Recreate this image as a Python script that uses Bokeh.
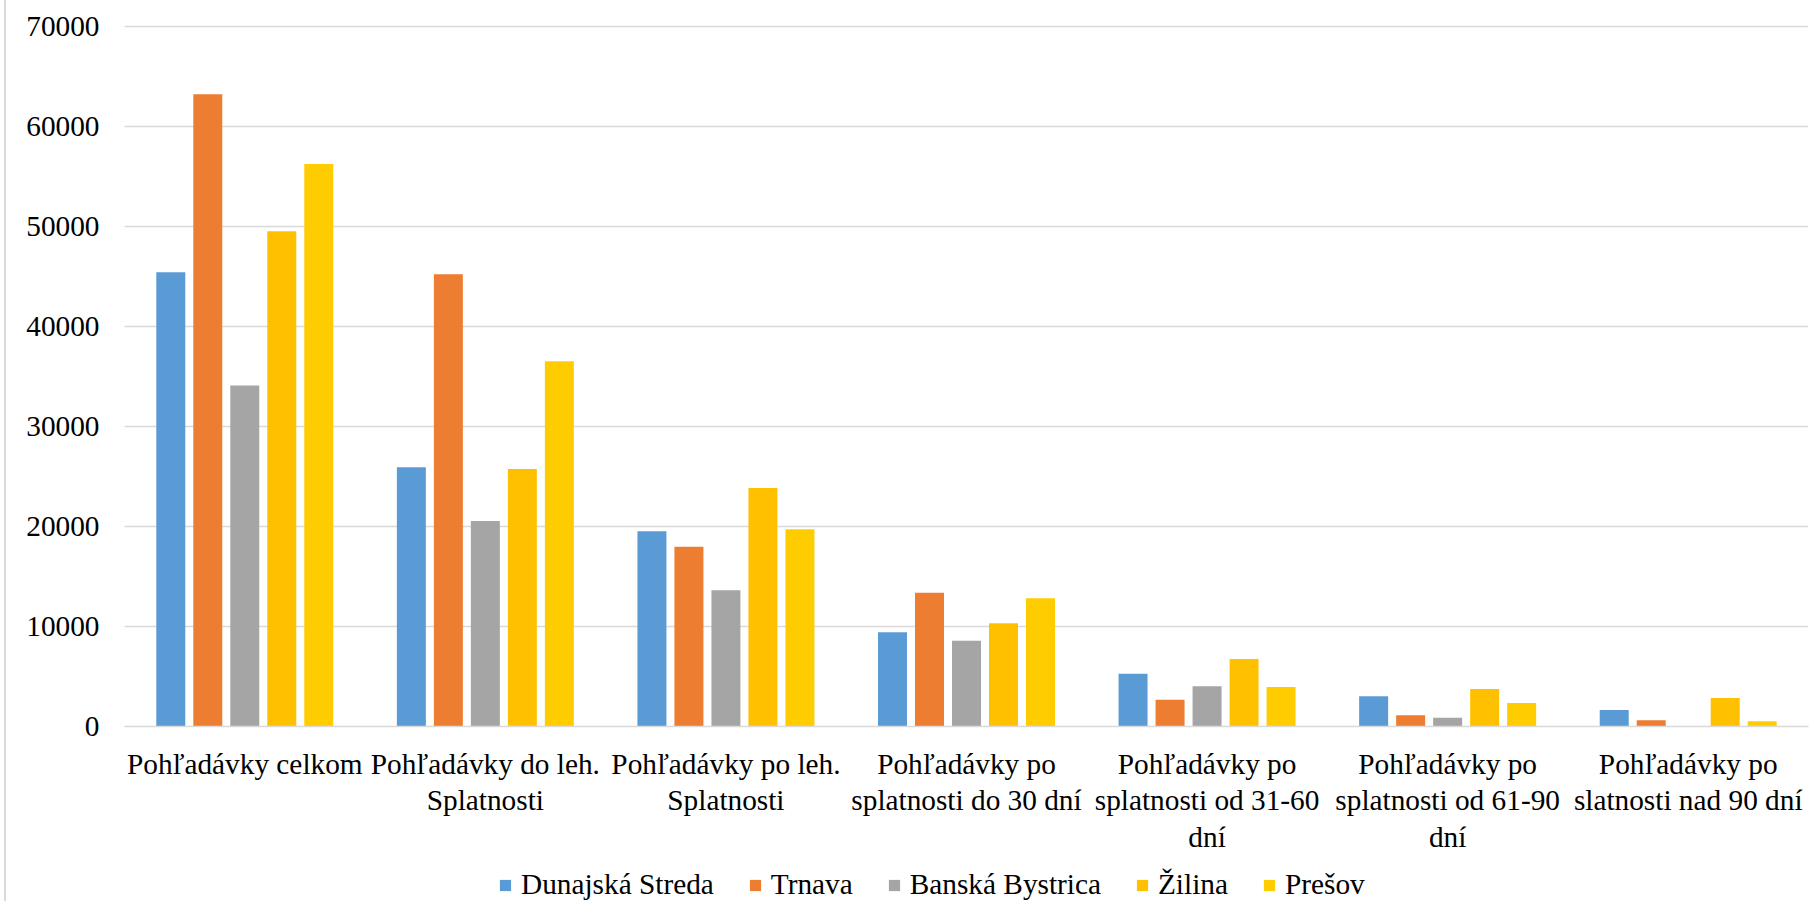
from bokeh.plotting import figure
from bokeh.layouts import column
from bokeh.models import (ColumnDataSource, FactorRange, Range1d, FixedTicker,
                          NumeralTickFormatter, Legend, LegendItem)
from bokeh.transform import dodge
from bokeh.embed import file_html
from bokeh.resources import INLINE

# ---- data ----
categories = [
    "Pohľadávky celkom",
    "Pohľadávky do leh.\nSplatnosti",
    "Pohľadávky po leh.\nSplatnosti",
    "Pohľadávky po\nsplatnosti do 30 dní",
    "Pohľadávky po\nsplatnosti od 31-60\ndní",
    "Pohľadávky po\nsplatnosti od 61-90\ndní",
    "Pohľadávky po\nslatnosti nad 90 dní",
]
series_names = ["Dunajská Streda", "Trnava", "Banská Bystrica", "Žilina", "Prešov"]
dunajska_streda = [45420, 25920, 19520, 9420, 5280, 3020, 1650]
trnava = [63220, 45220, 17980, 13380, 2680, 1120, 620]
banska_bystrica = [34100, 20550, 13620, 8580, 4020, 880, 0]
zilina = [49520, 25750, 23850, 10320, 6750, 3750, 2850]
presov = [56250, 36520, 19720, 12820, 3950, 2350, 520]
y_ticks = [0, 10000, 20000, 30000, 40000, 50000, 60000, 70000]

# ---- styles ----
colors = ["#5B9BD5", "#ED7D31", "#A5A5A5", "#FFC000", "#FFCC00"]
keys = ["s0", "s1", "s2", "s3", "s4"]
offsets = [-0.3076, -0.1538, 0.0, 0.1538, 0.3076]
bar_width = 0.1205
FONT = "Liberation Serif"
FSIZE = "29.3px"
GRID = "#D9D9D9"
W = 1803

source = ColumnDataSource(data=dict(
    cat=categories,
    s0=dunajska_streda, s1=trnava, s2=banska_bystrica, s3=zilina, s4=presov,
))

p = figure(
    width=W, height=866,
    x_range=FactorRange(factors=categories, range_padding=0),
    y_range=Range1d(0, 70400),
    output_backend="svg", toolbar_location=None,
    min_border_left=118, min_border_right=1,
    min_border_top=22, min_border_bottom=140,
)
p.outline_line_color = None
p.background_fill_color = "white"
p.border_fill_color = "white"

for k, c, off in zip(keys, colors, offsets):
    p.vbar(x=dodge("cat", off, range=p.x_range), top=k, width=bar_width,
           source=source, fill_color=c, line_color=None)

# grid
p.xgrid.visible = False
p.ygrid.grid_line_color = GRID
p.ygrid.grid_line_width = 1.6
p.yaxis.ticker = FixedTicker(ticks=y_ticks)
p.ygrid.ticker = FixedTicker(ticks=y_ticks)

# y axis
p.yaxis.formatter = NumeralTickFormatter(format="0")
p.yaxis.axis_line_color = None
p.yaxis.major_tick_line_color = None
p.yaxis.minor_tick_line_color = None
p.yaxis.major_tick_in = 0
p.yaxis.major_tick_out = 0
p.yaxis.major_label_standoff = 25
p.yaxis.major_label_text_font = FONT
p.yaxis.major_label_text_font_size = FSIZE
p.yaxis.major_label_text_color = "black"

# x axis
p.xaxis.axis_line_color = GRID
p.xaxis.axis_line_width = 1.6
p.xaxis.major_tick_line_color = None
p.xaxis.minor_tick_line_color = None
p.xaxis.major_tick_in = 0
p.xaxis.major_tick_out = 0
p.xaxis.major_label_standoff = 21
p.xaxis.major_label_text_font = FONT
p.xaxis.major_label_text_font_size = FSIZE
p.xaxis.major_label_text_color = "black"
p.xaxis.major_label_text_line_height = 1.15
p.xaxis.major_label_orientation = "horizontal"

# ---- legend strip below the chart ----
lg = figure(
    width=W, height=35,
    x_range=FactorRange(factors=categories, range_padding=0),
    y_range=Range1d(0, 1),
    x_axis_type=None, y_axis_type=None,
    output_backend="svg", toolbar_location=None,
    min_border_left=0, min_border_right=0, min_border_top=0, min_border_bottom=0,
)
lg.outline_line_color = None
lg.xgrid.visible = False
lg.ygrid.visible = False
items = []
for k, c, off, name in zip(keys, colors, offsets, series_names):
    r = lg.vbar(x=dodge("cat", off, range=lg.x_range), top=k, width=bar_width,
                source=source, fill_color=c, line_color=None, visible=False)
    items.append(LegendItem(label=name, renderers=[r]))

legend = Legend(items=items, orientation="horizontal", location=(374, 0))
legend.label_text_font = FONT
legend.label_text_font_size = FSIZE
legend.label_text_color = "black"
legend.glyph_width = 14
legend.glyph_height = 14
legend.label_standoff = 9
legend.spacing = 34
legend.padding = 0
legend.margin = 0
legend.border_line_color = None
legend.background_fill_alpha = 0
lg.add_layout(legend, "center")

layout = column(p, lg, spacing=0)
layout.styles = {"margin-left": "4px", "border-left": "2px solid #D9D9D9"}

open("out.html", "w").write(file_html(layout, INLINE))
